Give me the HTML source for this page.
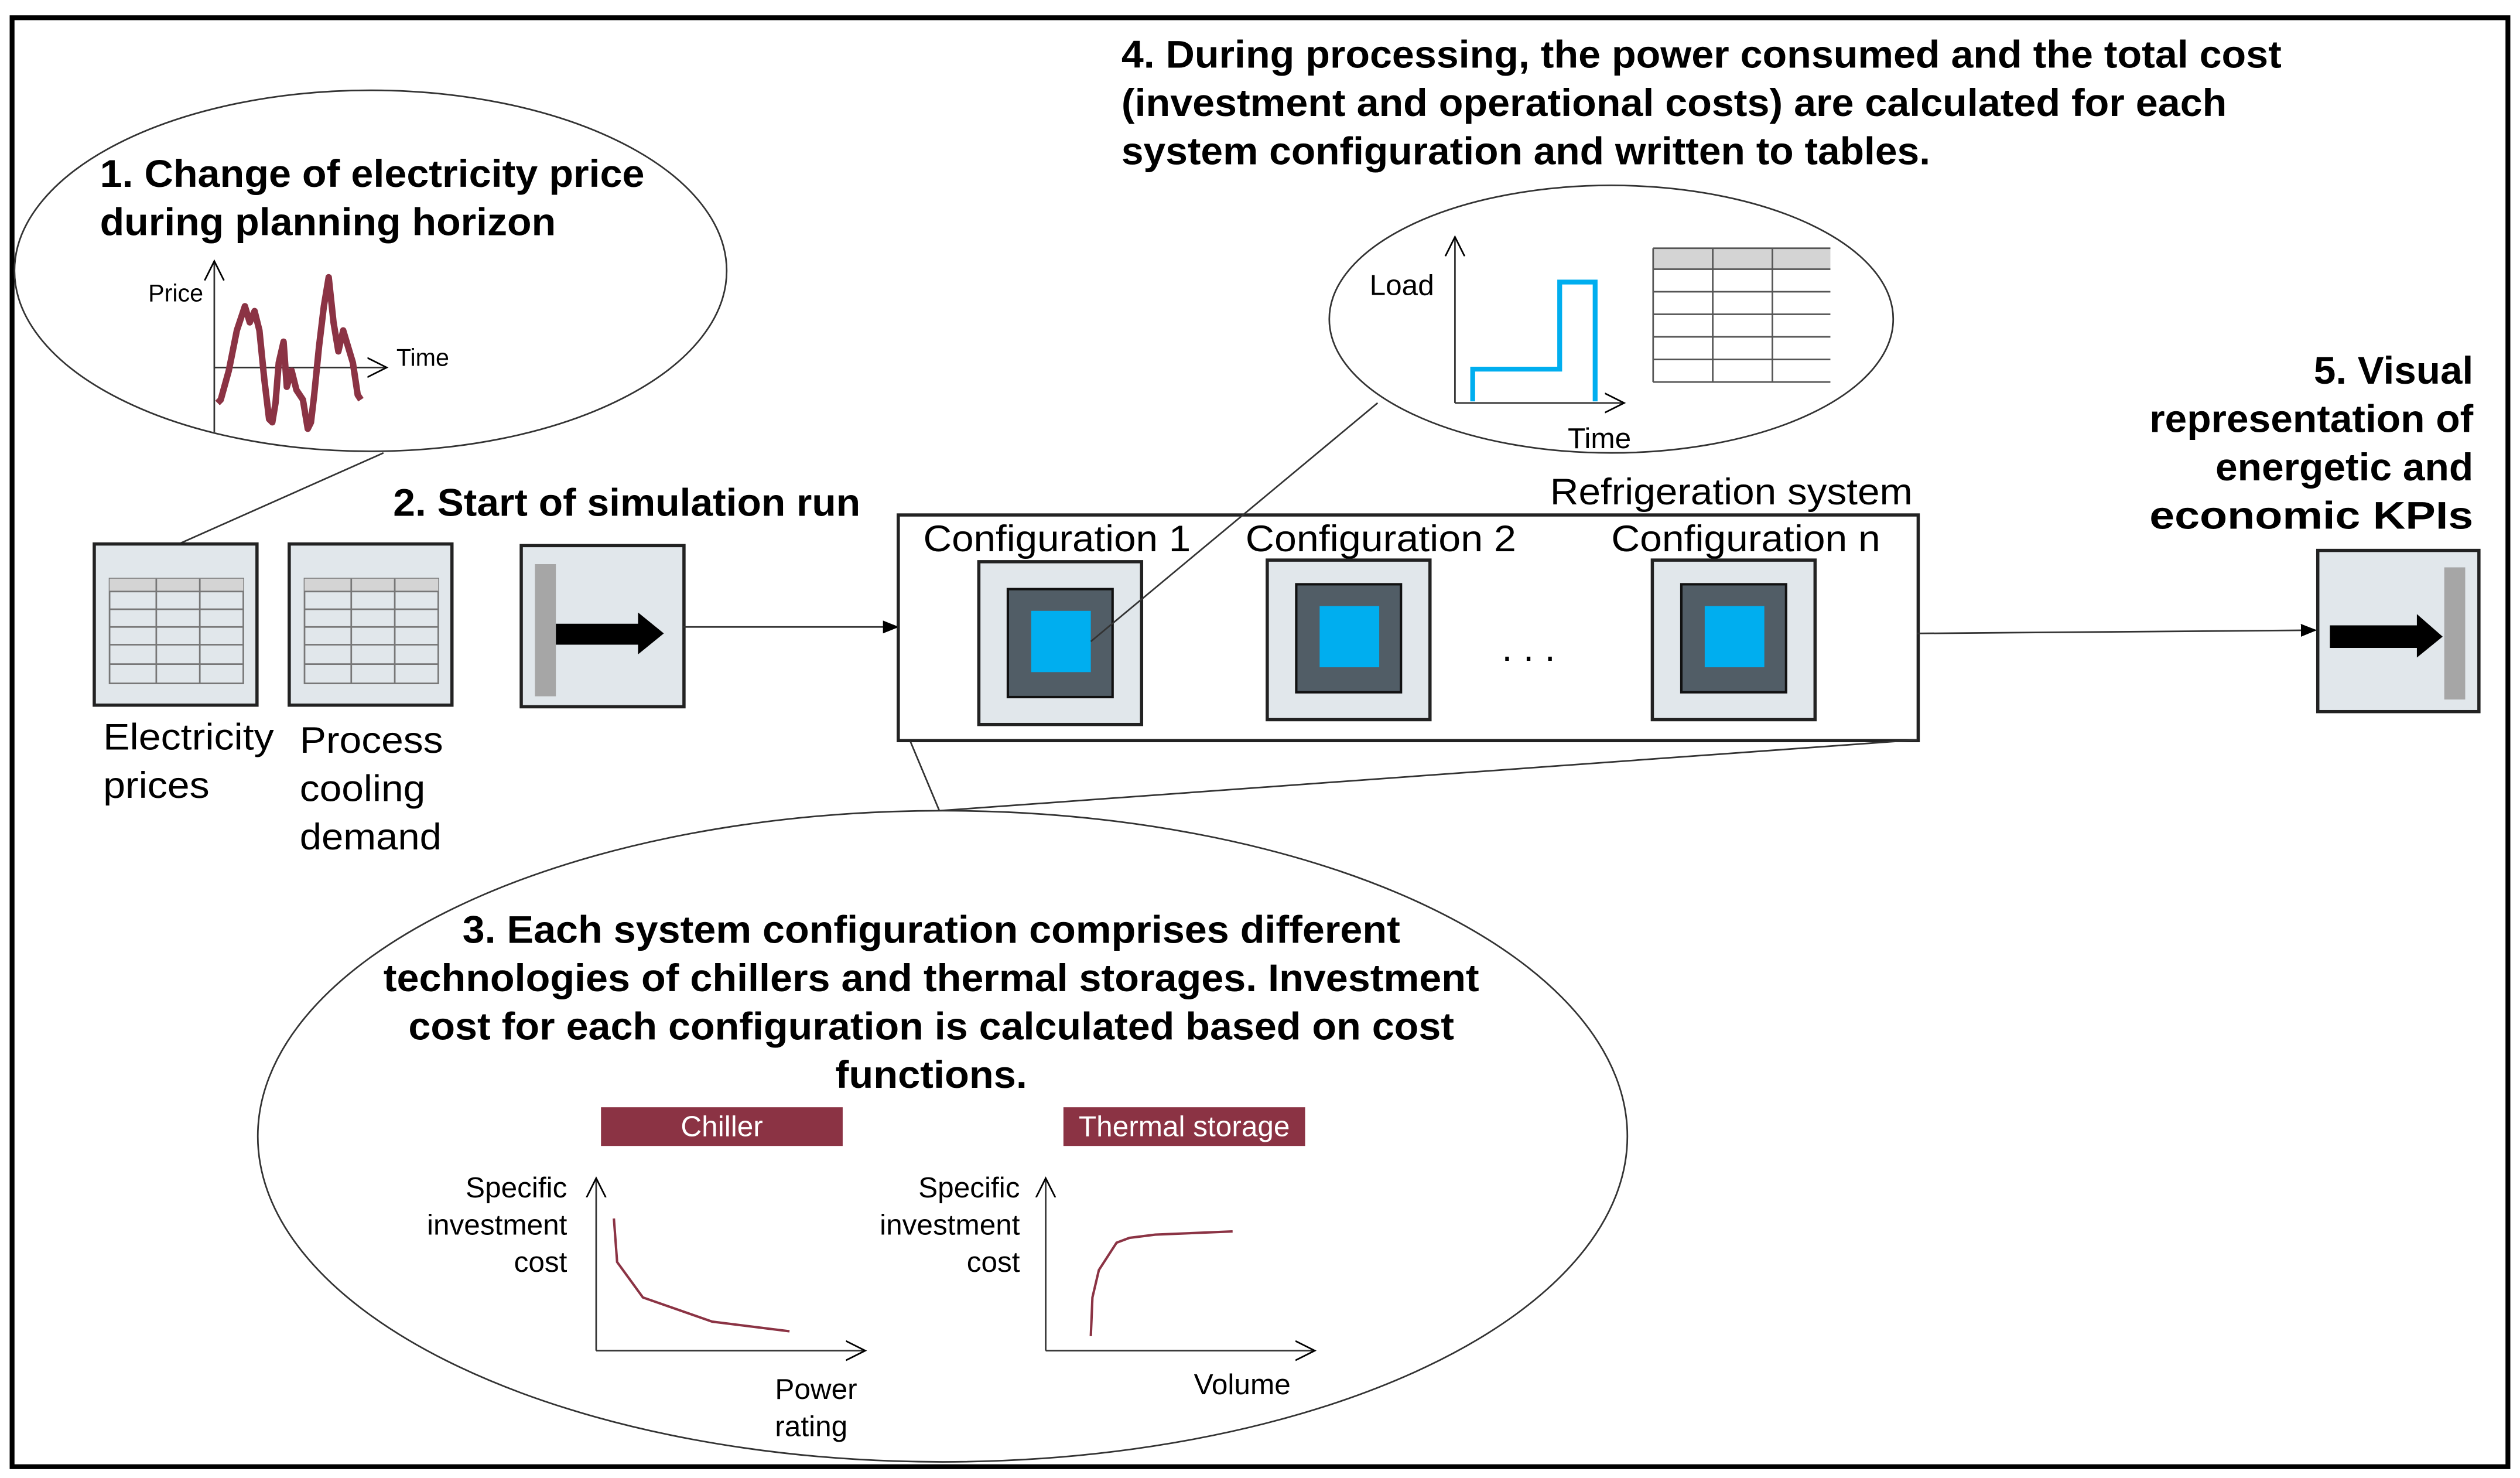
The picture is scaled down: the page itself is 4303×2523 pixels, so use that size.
<!DOCTYPE html>
<html><head><meta charset="utf-8"><style>html,body{margin:0;padding:0;background:#fff}svg{display:block}</style></head>
<body>
<svg width="4303" height="2523" viewBox="0 0 1564 917" xmlns="http://www.w3.org/2000/svg" font-family="Liberation Sans, Arial, sans-serif">
<defs>
<marker id="ah" markerWidth="10" markerHeight="8" refX="9" refY="4" orient="auto" markerUnits="userSpaceOnUse"><path d="M0,0 L10,4 L0,8 z" fill="#000"/></marker>
<marker id="oa" markerWidth="14" markerHeight="14" refX="12" refY="7" orient="auto" markerUnits="userSpaceOnUse"><path d="M0,1 L12,7 L0,13" fill="none" stroke="#000" stroke-width="1"/></marker>
</defs>
<rect x="7.5" y="11" width="1549" height="899" fill="#fff" stroke="#000" stroke-width="3"/>

<!-- Ellipse 1 -->
<ellipse cx="230" cy="168" rx="221" ry="112" fill="#fff" stroke="#333" stroke-width="1"/>
<text x="62" y="116" font-size="24" font-weight="bold" textLength="338" lengthAdjust="spacingAndGlyphs">1. Change of electricity price</text>
<text x="62" y="146" font-size="24" font-weight="bold" textLength="283" lengthAdjust="spacingAndGlyphs">during planning horizon</text>
<line x1="133" y1="268" x2="133" y2="162" stroke="#333" marker-end="url(#oa)"/>
<line x1="133" y1="228" x2="240" y2="228" stroke="#333" marker-end="url(#oa)"/>
<text x="92" y="187" font-size="15">Price</text>
<text x="246" y="227" font-size="15">Time</text>
<polyline points="135,250 137,248 142,230 147,205 152,190 155,200 158,193 161,205 164,235 167,260 169,262 171,250 173,225 176,212 178,240 181,230 184,242 188,248 191,266 193,262 195,245 198,215 201,190 204,172 207,200 210,218 213,205 216,215 219,225 222,245 224,248" fill="none" stroke="#8b3344" stroke-width="4" stroke-linejoin="round"/>
<line x1="238" y1="281" x2="112" y2="337" stroke="#333" stroke-width="1"/>

<!-- table boxes -->
<g>
<rect x="58.5" y="337.5" width="101" height="100" fill="#e1e7eb" stroke="#222" stroke-width="2"/>
<rect x="68" y="359" width="83" height="65" fill="#e1e7eb" stroke="#777" stroke-width="1"/>
<rect x="68" y="359" width="83" height="8" fill="#d4d4d4"/>
<path d="M68,367H151M68,378H151M68,389H151M68,400H151M68,412H151M97,359V424M124,359V424" stroke="#777" stroke-width="1"/>
</g>
<g transform="translate(121,0)">
<rect x="58.5" y="337.5" width="101" height="100" fill="#e1e7eb" stroke="#222" stroke-width="2"/>
<rect x="68" y="359" width="83" height="65" fill="#e1e7eb" stroke="#777" stroke-width="1"/>
<rect x="68" y="359" width="83" height="8" fill="#d4d4d4"/>
<path d="M68,367H151M68,378H151M68,389H151M68,400H151M68,412H151M97,359V424M124,359V424" stroke="#777" stroke-width="1"/>
</g>
<text x="64" y="465" font-size="23" textLength="106" lengthAdjust="spacingAndGlyphs">Electricity</text>
<text x="64" y="495" font-size="23" textLength="66" lengthAdjust="spacingAndGlyphs">prices</text>
<text x="186" y="467" font-size="23" textLength="89" lengthAdjust="spacingAndGlyphs">Process</text>
<text x="186" y="497" font-size="23" textLength="78" lengthAdjust="spacingAndGlyphs">cooling</text>
<text x="186" y="527" font-size="23" textLength="88" lengthAdjust="spacingAndGlyphs">demand</text>

<!-- start -->
<text x="244" y="320" font-size="24" font-weight="bold" textLength="290" lengthAdjust="spacingAndGlyphs">2. Start of simulation run</text>
<rect x="323.5" y="338.5" width="101" height="100" fill="#e1e7eb" stroke="#222" stroke-width="2"/>
<rect x="332" y="350" width="13" height="82" fill="#a6a6a6"/>
<polygon points="345,387 396,387 396,380 412,393 396,406 396,400 345,400" fill="#000"/>
<line x1="424" y1="389" x2="557" y2="389" stroke="#333" stroke-width="1" marker-end="url(#ah)"/>

<!-- refrigeration -->
<text x="962" y="313" font-size="23" textLength="225" lengthAdjust="spacingAndGlyphs">Refrigeration system</text>
<rect x="557.5" y="319.5" width="633" height="140" fill="#fff" stroke="#222" stroke-width="2"/>
<text x="573" y="342" font-size="23" textLength="166" lengthAdjust="spacingAndGlyphs">Configuration 1</text>
<text x="773" y="342" font-size="23" textLength="168" lengthAdjust="spacingAndGlyphs">Configuration 2</text>
<text x="1000" y="342" font-size="23" textLength="167" lengthAdjust="spacingAndGlyphs">Configuration n</text>
<g>
<rect x="607.5" y="348.5" width="101" height="101" fill="#e1e7eb" stroke="#222" stroke-width="2"/>
<rect x="625.5" y="365.5" width="65" height="67" fill="#515d66" stroke="#111" stroke-width="1.5"/>
<rect x="640" y="379" width="37" height="38" fill="#00aeef"/>
</g>
<g transform="translate(179,-1)">
<rect x="607.5" y="348.5" width="101" height="99" fill="#e1e7eb" stroke="#222" stroke-width="2"/>
<rect x="625.5" y="363.5" width="65" height="67" fill="#515d66" stroke="#111" stroke-width="1.5"/>
<rect x="640" y="377" width="37" height="38" fill="#00aeef"/>
</g>
<g transform="translate(418,-1)">
<rect x="607.5" y="348.5" width="101" height="99" fill="#e1e7eb" stroke="#222" stroke-width="2"/>
<rect x="625.5" y="363.5" width="65" height="67" fill="#515d66" stroke="#111" stroke-width="1.5"/>
<rect x="640" y="377" width="37" height="38" fill="#00aeef"/>
</g>
<text x="932" y="410" font-size="24">. . .</text>
<line x1="1190" y1="393" x2="1437" y2="391" stroke="#333" stroke-width="1" marker-end="url(#ah)"/>

<!-- box 5 -->
<text x="1535" y="238" font-size="24" font-weight="bold" text-anchor="end" textLength="99" lengthAdjust="spacingAndGlyphs">5. Visual</text>
<text x="1535" y="268" font-size="24" font-weight="bold" text-anchor="end" textLength="201" lengthAdjust="spacingAndGlyphs">representation of</text>
<text x="1535" y="298" font-size="24" font-weight="bold" text-anchor="end" textLength="160" lengthAdjust="spacingAndGlyphs">energetic and</text>
<text x="1535" y="328" font-size="24" font-weight="bold" text-anchor="end" textLength="201" lengthAdjust="spacingAndGlyphs">economic KPIs</text>
<rect x="1438.5" y="341.5" width="100" height="100" fill="#e1e7eb" stroke="#222" stroke-width="2"/>
<rect x="1517" y="352" width="13" height="82" fill="#a6a6a6"/>
<polygon points="1446,388 1500,388 1500,381 1516,395 1500,408 1500,402 1446,402" fill="#000"/>

<!-- Ellipse 4 -->
<text x="696" y="42" font-size="24" font-weight="bold" textLength="720" lengthAdjust="spacingAndGlyphs">4. During processing, the power consumed and the total cost</text>
<text x="696" y="72" font-size="24" font-weight="bold" textLength="686" lengthAdjust="spacingAndGlyphs">(investment and operational costs) are calculated for each</text>
<text x="696" y="102" font-size="24" font-weight="bold" textLength="502" lengthAdjust="spacingAndGlyphs">system configuration and written to tables.</text>
<ellipse cx="1000" cy="198" rx="175" ry="83" fill="#fff" stroke="#333" stroke-width="1"/>
<line x1="855" y1="250" x2="677" y2="398" stroke="#333" stroke-width="1"/>
<line x1="903" y1="250" x2="903" y2="147" stroke="#333" marker-end="url(#oa)"/>
<line x1="903" y1="250" x2="1008" y2="250" stroke="#333" marker-end="url(#oa)"/>
<text x="850" y="183" font-size="18">Load</text>
<text x="973" y="278" font-size="18">Time</text>
<polyline points="914,249 914,229 968,229 968,175 990,175 990,249" fill="none" stroke="#00aeef" stroke-width="3"/>
<rect x="1026" y="154" width="110" height="13" fill="#d4d4d4"/>
<path d="M1026,154H1136M1026,167H1136M1026,181H1136M1026,195H1136M1026,209H1136M1026,223H1136M1026,237H1136M1026,154V237M1063,154V237M1100,154V237" stroke="#555" stroke-width="1" fill="none"/>

<!-- Ellipse 3 -->
<line x1="565" y1="460" x2="583" y2="503" stroke="#333" stroke-width="1"/>
<line x1="1190" y1="459" x2="583" y2="503" stroke="#333" stroke-width="1"/>
<ellipse cx="585" cy="705" rx="425" ry="202" fill="#fff" stroke="#333" stroke-width="1"/>
<text x="578" y="585" font-size="24" font-weight="bold" text-anchor="middle" textLength="582" lengthAdjust="spacingAndGlyphs">3. Each system configuration comprises different</text>
<text x="578" y="615" font-size="24" font-weight="bold" text-anchor="middle" textLength="680" lengthAdjust="spacingAndGlyphs">technologies of chillers and thermal storages. Investment</text>
<text x="578" y="645" font-size="24" font-weight="bold" text-anchor="middle" textLength="649" lengthAdjust="spacingAndGlyphs">cost for each configuration is calculated based on cost</text>
<text x="578" y="675" font-size="24" font-weight="bold" text-anchor="middle" textLength="119" lengthAdjust="spacingAndGlyphs">functions.</text>
<rect x="373" y="687" width="150" height="24" fill="#8b3344"/>
<text x="448" y="705" font-size="18" fill="#fff" text-anchor="middle">Chiller</text>
<rect x="660" y="687" width="150" height="24" fill="#8b3344"/>
<text x="735" y="705" font-size="18" fill="#fff" text-anchor="middle">Thermal storage</text>

<text x="352" y="743" font-size="18" text-anchor="end">Specific</text>
<text x="352" y="766" font-size="18" text-anchor="end">investment</text>
<text x="352" y="789" font-size="18" text-anchor="end">cost</text>
<line x1="370" y1="838" x2="370" y2="731" stroke="#333" marker-end="url(#oa)"/>
<line x1="370" y1="838" x2="537" y2="838" stroke="#333" marker-end="url(#oa)"/>
<polyline points="381,756 383,783 399,805 442,820 490,826" fill="none" stroke="#8b3344" stroke-width="1.5"/>
<text x="532" y="868" font-size="18" text-anchor="end">Power</text>
<text x="526" y="891" font-size="18" text-anchor="end">rating</text>

<text x="633" y="743" font-size="18" text-anchor="end">Specific</text>
<text x="633" y="766" font-size="18" text-anchor="end">investment</text>
<text x="633" y="789" font-size="18" text-anchor="end">cost</text>
<line x1="649" y1="838" x2="649" y2="731" stroke="#333" marker-end="url(#oa)"/>
<line x1="649" y1="838" x2="816" y2="838" stroke="#333" marker-end="url(#oa)"/>
<polyline points="677,829 678,805 682,788 693,771 701,768 717,766 765,764" fill="none" stroke="#8b3344" stroke-width="1.5"/>
<text x="801" y="865" font-size="18" text-anchor="end">Volume</text>
</svg>
</body></html>
